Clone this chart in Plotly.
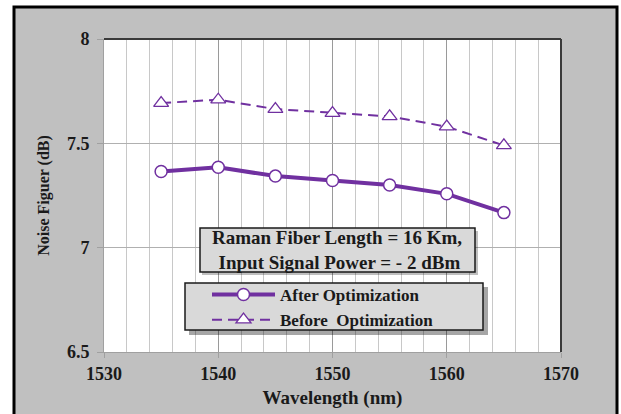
import plotly.graph_objects as go

# Noise figure versus wavelength, before and after optimization
wavelength = [1535, 1540, 1545, 1550, 1555, 1560, 1565]
nf_after = [7.365, 7.385, 7.343, 7.322, 7.300, 7.258, 7.168]
nf_before = [7.693, 7.709, 7.664, 7.645, 7.629, 7.580, 7.490]

x_ticks = [1530, 1540, 1550, 1560, 1570]
y_ticks = [6.5, 7, 7.5, 8]
y_tick_text = ["6.5", "7", "7.5", "8"]

purple = "#7030A0"
serif = "Liberation Serif"
ink = "#1a1a1a"

# plot area in pixels (for positioning boxes in paper coordinates)
W, H = 621, 414
L, R, T, B = 104, 561, 39, 352


def px(x):
    return (x - L) / (R - L)


def py(y):
    return (B - y) / (B - T)


fig = go.Figure()

fig.add_trace(go.Scatter(
    x=wavelength, y=nf_after, name="After Optimization",
    mode="lines+markers",
    line=dict(color=purple, width=4),
    marker=dict(symbol="circle", size=12, color="white",
                line=dict(color=purple, width=1.5)),
))
fig.add_trace(go.Scatter(
    x=wavelength, y=nf_before, name="Before  Optimization",
    mode="lines+markers",
    line=dict(color=purple, width=2, dash="10px,6px"),
    marker=dict(symbol="triangle-up", size=13, color="white",
                line=dict(color=purple, width=1.3)),
))

shapes = [
    # outer chart frame
    dict(type="rect", xref="paper", yref="paper", layer="below",
         x0=px(14), x1=px(617), y0=py(7), y1=py(420),
         fillcolor="#c0c0c0", line=dict(color="black", width=3)),
    # plot area background
    dict(type="rect", xref="paper", yref="paper", layer="below",
         x0=0, x1=1, y0=0, y1=1, fillcolor="white", line=dict(width=0)),
    # top and right plot-area border
    dict(type="line", xref="paper", yref="paper", x0=0, x1=1, y0=1, y1=1,
         line=dict(color="#3a3a3a", width=2)),
    dict(type="line", xref="paper", yref="paper", x0=1, x1=1, y0=0, y1=1,
         line=dict(color="#3a3a3a", width=2)),
    # text box with shadow
    dict(type="rect", xref="paper", yref="paper", layer="above",
         x0=px(202), x1=px(478), y0=py(231), y1=py(275),
         fillcolor="rgba(0,0,0,0.25)", line=dict(width=0)),
    dict(type="rect", xref="paper", yref="paper", layer="above",
         x0=px(200), x1=px(475), y0=py(228), y1=py(272),
         fillcolor="#d9d9d9", line=dict(color=ink, width=1.5)),
    # legend box with shadow
    dict(type="rect", xref="paper", yref="paper", layer="above",
         x0=px(189), x1=px(488), y0=py(287), y1=py(335),
         fillcolor="rgba(0,0,0,0.35)", line=dict(width=0)),
    dict(type="rect", xref="paper", yref="paper", layer="above",
         x0=px(185), x1=px(483), y0=py(283), y1=py(330),
         fillcolor="#d9d9d9", line=dict(color=ink, width=1.5)),
]

fig.add_annotation(
    xref="paper", yref="paper", x=px(337), y=py(250),
    xanchor="center", yanchor="middle",
    text="<b>Raman Fiber Length = 16 Km,<br> Input Signal Power = - 2 dBm</b>",
    showarrow=False, align="center",
    font=dict(family=serif, size=19, color=ink),
)

fig.update_layout(
    width=W, height=H,
    margin=dict(l=L, r=W - R, t=T, b=H - B, autoexpand=False),
    paper_bgcolor="white", plot_bgcolor="white",
    shapes=shapes,
    showlegend=True,
    legend=dict(
        x=px(207), y=py(277), xanchor="left", yanchor="top",
        bgcolor="rgba(0,0,0,0)", borderwidth=0,
        itemwidth=63,
        font=dict(family=serif, size=17, color=ink, weight="bold"),
    ),
    xaxis=dict(
        range=[1530, 1570], tickvals=x_ticks, automargin=False,
        showgrid=True, gridcolor="#9a9a9a", gridwidth=1,
        minor=dict(dtick=2, tick0=1530, showgrid=True, gridcolor="#c8c8c8",
                   gridwidth=1, ticks=""),
        showline=True, linecolor="#a0a0a0", linewidth=1,
        ticks="outside", ticklen=5, tickcolor="#a0a0a0",
        tickfont=dict(family=serif, size=18, color=ink, weight="bold"),
        title=dict(text="Wavelength (nm)", standoff=8,
                   font=dict(family=serif, size=19, color=ink,
                             weight="bold")),
        zeroline=False,
    ),
    yaxis=dict(
        range=[6.5, 8], tickvals=y_ticks, ticktext=y_tick_text,
        automargin=False,
        showgrid=True, gridcolor="#b0b0b0", gridwidth=1,
        showline=True, linecolor="#a0a0a0", linewidth=1,
        ticks="outside", ticklen=6, tickcolor="#a0a0a0",
        ticklabelstandoff=4,
        tickfont=dict(family=serif, size=18, color=ink, weight="bold"),
        title=dict(text="Noise Figuer (dB)", standoff=13,
                   font=dict(family=serif, size=16, color=ink,
                             weight="bold")),
        zeroline=False,
    ),
)

fig.write_html("out.html")
